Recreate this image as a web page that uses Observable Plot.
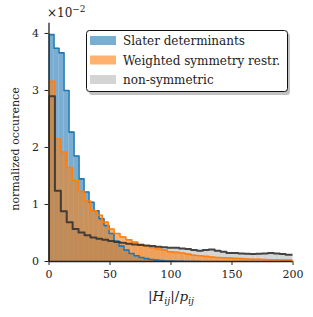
<!DOCTYPE html>
<html><head><meta charset="utf-8">
<script src="https://cdn.jsdelivr.net/npm/d3@7"></script>
<script src="https://cdn.jsdelivr.net/npm/@observablehq/plot@0.6"></script>
<style>body{margin:0;background:#fff;} svg{font-family:"DejaVu Serif",serif;}</style>
</head><body><div id="chart"></div>
<script>
// bin widths (data units)
const slaterBinWidth = 4.1;
const otherBinWidth = 4.85;
// values in units of 1e-2
const slaterValues = [3.98,3.74,3.66,3.0,2.27,1.85,1.45,1.22,1.04,0.89,0.75,0.63,0.49,0.36,0.27,0.20,0.14,0.10,0.07,0.05,0.035,0.025,0.015,0.01,0.006,0.004,0.002,0.001,0,0];
const weightedValues = [3.16,2.15,1.92,1.65,1.42,1.23,1.06,0.89,0.81,0.69,0.57,0.49,0.43,0.38,0.34,0.30,0.27,0.24,0.22,0.20,0.17,0.16,0.15,0.13,0.11,0.10,0.09,0.08,0.07,0.065,0.06,0.055,0.05,0.045,0.04,0.04,0.035,0.03,0.03,0.025,0.025,0.02];
const nonSymValues = [2.90,1.24,0.88,0.69,0.57,0.51,0.46,0.42,0.40,0.38,0.36,0.34,0.33,0.31,0.30,0.29,0.28,0.27,0.26,0.25,0.24,0.24,0.23,0.22,0.20,0.19,0.20,0.21,0.19,0.17,0.15,0.15,0.14,0.135,0.13,0.135,0.14,0.15,0.14,0.13,0.12,0.12];
const seriesNames = ["Slater determinants","Weighted symmetry restr.","non-symmetric"];
const xTicks = [0,50,100,150,200];
const yTicks = [0,1,2,3,4];

function bins(vals, w){ return vals.map((v,i)=>({x1:i*w, x2:(i+1)*w, y:v})); }
function steps(vals, w){
  const pts=[{x:0,y:0}];
  vals.forEach((v,i)=>pts.push({x:i*w,y:v}));
  pts.push({x:vals.length*w,y:vals[vals.length-1]});
  pts.push({x:vals.length*w,y:0});
  return pts;
}
const blueF="#1f77b4", orangeF="#ff7f0e";
const W=313,H=317;
const plot = Plot.plot({
  width: W, height: H,
  marginLeft: 48.5, marginRight: 20.5, marginTop: 22.7, marginBottom: 56,
  style: {fontFamily: '"DejaVu Serif", serif', fontSize: "11px", color: "#222"},
  x: {domain:[0,200], ticks: xTicks, tickSize: 4, tickPadding: 5, tickFormat: d3.format("d"), label: null},
  y: {domain:[0,4.18], ticks: yTicks, tickSize: 4, tickPadding: 6, tickFormat: d3.format("d"), label: null},
  marks: [
    Plot.rectY(bins(nonSymValues, otherBinWidth), {x1:"x1", x2:"x2", y:"y", fill:"#d4d4d4", clip:true}),
    Plot.rectY(bins(slaterValues, slaterBinWidth), {x1:"x1", x2:"x2", y:"y", fill:blueF, fillOpacity:0.6, clip:true}),
    Plot.rectY(bins(weightedValues, otherBinWidth), {x1:"x1", x2:"x2", y:"y", fill:orangeF, fillOpacity:0.6, clip:true}),
    Plot.line(steps(slaterValues, slaterBinWidth), {x:"x", y:"y", curve:"step-after", stroke:blueF, strokeWidth:1.6, clip:true}),
    Plot.line(steps(weightedValues, otherBinWidth), {x:"x", y:"y", curve:"step-after", stroke:orangeF, strokeWidth:1.6, clip:true}),
    Plot.line(steps(nonSymValues, otherBinWidth), {x:"x", y:"y", curve:"step-after", stroke:"#333", strokeOpacity:0.9, strokeWidth:2, clip:true}),
    Plot.ruleX([0], {stroke:"#222", strokeWidth:1.3}),
    Plot.ruleY([0], {stroke:"#222", strokeWidth:1.3})
  ]
});
document.getElementById("chart").appendChild(plot);
const svg = d3.select(plot);
// exponent label
const ex = svg.append("text").attr("x",47).attr("y",17).attr("text-anchor","start").attr("font-size","12px").attr("fill","#222");
ex.append("tspan").text("×10");
ex.append("tspan").attr("dy",-5).attr("font-size","9px").text("−2");
// y label
svg.append("text").attr("transform","translate(19,149) rotate(-90)").attr("text-anchor","middle").attr("font-size","11px").attr("fill","#222").text("normalized occurence");
// x label
const xl = svg.append("text").attr("x",171).attr("y",301).attr("text-anchor","middle").attr("font-size","13.5px").attr("fill","#222");
xl.append("tspan").text("|");
xl.append("tspan").attr("font-style","italic").text("H");
xl.append("tspan").attr("font-style","italic").attr("font-size","9.5px").attr("dy",3).text("ij");
xl.append("tspan").attr("dy",-3).text("|/");
xl.append("tspan").attr("font-style","italic").text("p");
xl.append("tspan").attr("font-style","italic").attr("font-size","9.5px").attr("dy",3).text("ij");
// legend
const lg = svg.append("g").attr("text-anchor","start");
lg.append("rect").attr("x",89).attr("y",33).attr("width",201).attr("height",62).attr("rx",3).attr("fill","#999").attr("opacity",0.6);
lg.append("rect").attr("x",86.5).attr("y",30.5).attr("width",201).attr("height",61).attr("rx",3).attr("fill","#fff").attr("stroke","#111").attr("stroke-width",1);
const legColors=[[blueF,0.6],[orangeF,0.6],["#d4d4d4",1]];
seriesNames.forEach((n,i)=>{
  const cy = 41 + i*19.5;
  lg.append("rect").attr("x",90).attr("y",cy-5).attr("width",26).attr("height",9).attr("fill",legColors[i][0]).attr("fill-opacity",legColors[i][1]);
  lg.append("text").attr("x",123).attr("y",cy+4).attr("font-size","12px").attr("fill","#222").text(n);
});
</script></body></html>
